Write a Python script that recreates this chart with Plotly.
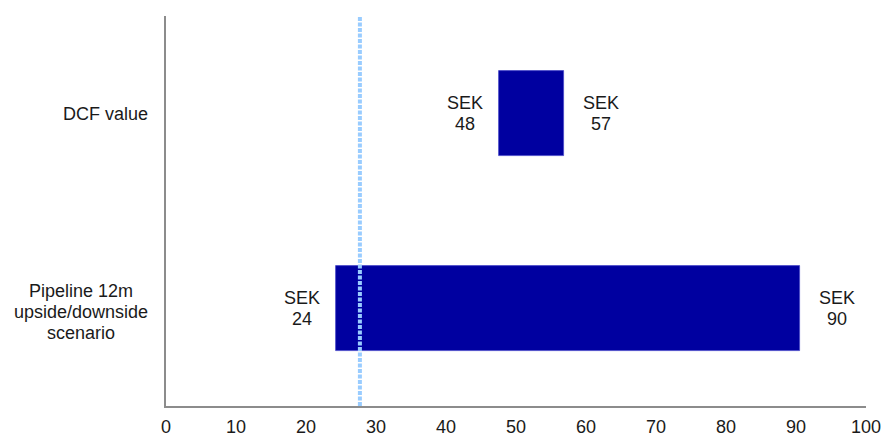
import plotly.graph_objects as go

categories = ["DCF value", "Pipeline 12m<br>upside/downside<br>scenario"]
low_values = [47.5, 24.3]
high_values = [56.9, 90.5]
low_labels = ["SEK<br>48", "SEK<br>24"]
high_labels = ["SEK<br>57", "SEK<br>90"]
share_price = 27.7
x_ticks = [0, 10, 20, 30, 40, 50, 60, 70, 80, 90, 100]

FONT = "Liberation Sans, Arial, sans-serif"
TXT = "#1a1a1a"
LINE_H = 21

fig = go.Figure()
fig.add_trace(go.Bar(
    orientation="h",
    y=categories,
    x=[h - l for h, l in zip(high_values, low_values)],
    base=low_values,
    width=0.44,
    marker=dict(color="#0000A0", line=dict(color="#4848c8", width=0.8)),
    hoverinfo="skip",
))

annotations = []


def add_multiline(text, x, y, xref, xanchor, xshift, yoffset=0):
    lines = text.split("<br>")
    n = len(lines)
    for i, line in enumerate(lines):
        ys = ((n - 1) / 2 - i) * LINE_H + yoffset
        annotations.append(dict(x=x, y=y, xref=xref, yref="y", text=line, showarrow=False,
                                xanchor=xanchor, yanchor="middle", xshift=xshift, yshift=ys,
                                align="center", font=dict(family=FONT, size=18, color=TXT)))


for cat, lo, hi, ll, hl in zip(categories, low_values, high_values, low_labels, high_labels):
    add_multiline(ll, lo, cat, "x", "center", -34)
    add_multiline(hl, hi, cat, "x", "center", 37)
    # category label: lines centred on a common centre, block right-aligned near the axis
    lines = cat.split("<br>")
    n = len(lines)
    for i, line in enumerate(lines):
        ys = ((n - 1) / 2 - i) * LINE_H - (3 if n > 1 else 0)
        annotations.append(dict(x=0, y=cat, xref="paper", yref="y", text=line, showarrow=False,
                                xanchor="center", yanchor="middle",
                                xshift=-16 - (69 if n > 1 else 45), yshift=ys,
                                align="center", font=dict(family=FONT, size=18, color=TXT)))

fig.update_layout(
    width=885, height=436,
    margin=dict(l=166, r=19, t=16, b=30, autoexpand=False),
    paper_bgcolor="white", plot_bgcolor="white",
    showlegend=False,
    bargap=0,
    annotations=annotations,
    shapes=[dict(type="line", xref="x", yref="paper", x0=share_price, x1=share_price,
                 y0=0, y1=1, line=dict(color="#99CCFF", width=4, dash="4px,1.5px"))],
    xaxis=dict(range=[0, 100], tickvals=x_ticks, ticktext=[str(v) for v in x_ticks],
               showgrid=False, zeroline=False, showline=True, linecolor="#8c8c8c", linewidth=2,
               ticks="", ticklabelstandoff=3, automargin=False,
               tickfont=dict(family=FONT, size=18, color=TXT), fixedrange=True),
    yaxis=dict(range=[1.5, -0.5], showticklabels=False, showgrid=False, zeroline=False,
               showline=True, linecolor="#8c8c8c", linewidth=2, ticks="", automargin=False,
               fixedrange=True),
)

fig.write_html("out.html")
